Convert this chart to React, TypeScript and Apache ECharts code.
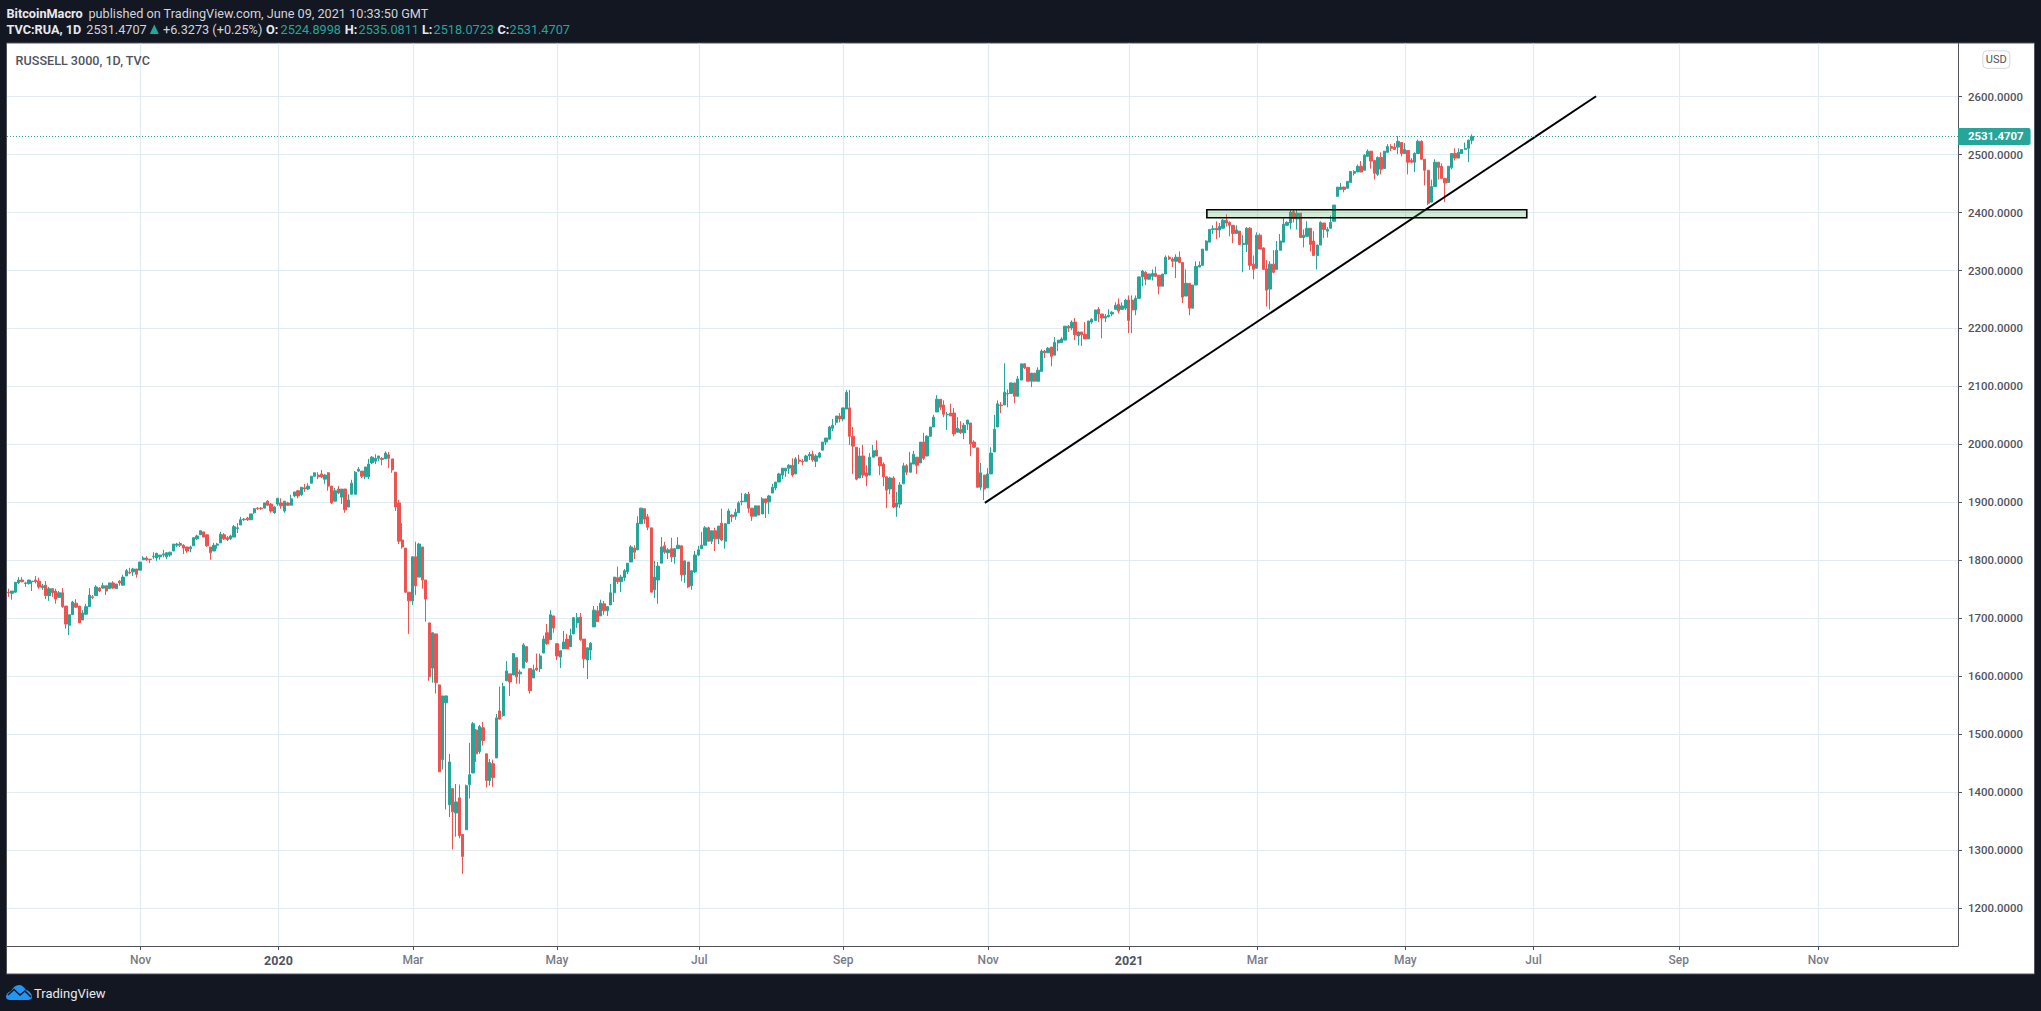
import React, { useEffect, useRef } from "react";
import * as echarts from "echarts";

// Each row: open, close, low, high
const candlesAutumn2019 = [
[1745,1744,1737,1751],[1743,1747,1732,1747],[1745,1762,1744,1762],[1761,1766,1759,1771],[1766,1763,1762,1771],[1760,1761,1754,1763],[1760,1766,1758,1766],[1763,1764,1747,1764],[1766,1763,1760,1773],[1764,1754,1751,1770],
[1753,1756,1749,1759],[1757,1739,1733,1764],[1739,1751,1730,1754],[1751,1744,1737,1751],[1747,1733,1725,1751],[1736,1744,1736,1747],[1744,1720,1718,1752],[1721,1690,1682,1721],[1688,1706,1671,1706],[1706,1728,1706,1730],
[1726,1719,1718,1733],[1721,1692,1692,1721],[1697,1709,1697,1714],[1707,1720,1706,1725],[1720,1740,1720,1752],[1737,1736,1733,1740],[1739,1754,1739,1757],[1752,1747,1745,1754],[1752,1756,1751,1761],[1756,1747,1740,1756],
[1751,1761,1751,1761],[1761,1752,1751,1764],[1751,1759,1751,1759],[1764,1761,1756,1766],[1757,1771,1757,1775],[1773,1782,1773,1785],[1779,1778,1776,1787],[1780,1785,1773,1787],[1785,1776,1770,1785],[1783,1797,1783,1797],
];
const candlesWinter2019 = [
[1801,1804,1801,1807],[1804,1801,1799,1807],[1802,1801,1795,1802],[1806,1807,1802,1814],[1804,1812,1799,1813],[1806,1809,1801,1809],[1809,1811,1805,1818],[1806,1813,1802,1814],[1809,1814,1806,1814],[1816,1828,1816,1828],
[1826,1828,1823,1830],[1829,1826,1823,1832],[1826,1821,1811,1828],[1823,1816,1813,1823],[1820,1823,1814,1825],[1825,1839,1825,1839],[1837,1842,1835,1844],[1844,1851,1844,1851],[1849,1840,1840,1849],[1844,1825,1823,1844],
[1823,1813,1801,1823],[1816,1826,1816,1830],[1826,1828,1820,1830],[1830,1845,1830,1849],[1844,1837,1835,1847],[1839,1836,1833,1842],[1837,1842,1835,1844],[1840,1858,1840,1861],[1855,1856,1847,1864],[1861,1870,1861,1875],
[1870,1871,1868,1873],[1873,1870,1868,1875],[1870,1880,1870,1880],[1882,1889,1880,1890],[1890,1889,1887,1892],[1890,1889,1887,1892],[1890,1899,1890,1899],[1902,1895,1894,1904],[1897,1885,1882,1899],[1882,1892,1880,1894],
];
const candlesEarly2020 = [
[1897,1907,1894,1907],[1899,1894,1889,1907],[1885,1902,1882,1902],[1899,1895,1894,1901],[1895,1906,1895,1913],[1911,1918,1909,1918],[1920,1911,1907,1921],[1913,1926,1911,1926],[1925,1923,1918,1932],[1923,1928,1921,1933],
[1933,1945,1933,1945],[1945,1951,1944,1951],[1947,1944,1940,1952],[1949,1944,1942,1956],[1940,1947,1932,1949],[1951,1928,1920,1952],[1928,1899,1897,1928],[1902,1920,1902,1925],[1923,1916,1914,1928],[1909,1923,1897,1923],
[1923,1887,1882,1923],[1892,1904,1892,1914],[1914,1933,1914,1939],[1914,1952,1914,1954],[1954,1957,1952,1961],[1954,1945,1942,1954],[1944,1961,1940,1961],[1944,1966,1940,1975],[1968,1978,1966,1980],[1971,1976,1966,1983],
[1976,1980,1971,1980],[1976,1974,1964,1978],[1975,1985,1975,1988],[1982,1976,1959,1987],[1975,1956,1951,1975],[1952,1892,1885,1952],[1899,1833,1828,1904],[1835,1823,1820,1864],[1821,1745,1744,1821],[1745,1730,1673,1745],
];
const candlesCrash2020 = [
[1730,1806,1723,1807],[1806,1756,1740,1832],[1771,1828,1771,1830],[1823,1766,1751,1823],[1766,1733,1694,1766],[1692,1599,1592,1692],[1614,1675,1589,1675],[1673,1589,1570,1673],[1585,1435,1435,1585],[1456,1566,1439,1566],
[1554,1566,1370,1566],[1378,1452,1357,1466],[1406,1366,1301,1406],[1364,1383,1323,1414],[1390,1325,1320,1413],[1327,1289,1259,1327],[1335,1411,1335,1413],[1413,1430,1389,1485],[1433,1518,1433,1521],[1507,1466,1452,1509],
[1470,1513,1466,1516],[1511,1489,1480,1521],[1466,1420,1408,1466],[1420,1451,1411,1457],[1449,1425,1409,1456],[1459,1528,1459,1535],[1540,1526,1525,1582],[1532,1582,1530,1589],[1592,1609,1592,1626],[1604,1590,1566,1604],
[1602,1639,1602,1640],[1632,1599,1587,1632],[1604,1607,1587,1611],[1614,1654,1614,1657],[1651,1625,1623,1652],[1613,1575,1570,1613],[1597,1611,1597,1620],[1614,1611,1609,1639],[1613,1635,1607,1639],[1640,1664,1640,1670],
];
const candlesSpring2020 = [
[1675,1656,1654,1690],[1663,1706,1663,1714],[1704,1683,1675,1704],[1656,1635,1628,1657],[1633,1644,1614,1644],[1647,1659,1647,1678],[1664,1647,1647,1673],[1651,1670,1651,1682],[1673,1701,1673,1702],[1692,1701,1683,1709],
[1702,1663,1661,1709],[1664,1630,1614,1664],[1628,1649,1595,1649],[1645,1657,1628,1659],[1685,1714,1685,1721],[1713,1694,1694,1721],[1704,1726,1704,1732],[1725,1713,1706,1730],[1713,1720,1704,1720],[1723,1744,1723,1759],
[1744,1771,1728,1771],[1770,1763,1759,1789],[1763,1771,1745,1775],[1770,1782,1764,1785],[1780,1795,1776,1795],[1797,1823,1797,1826],[1821,1814,1802,1826],[1818,1864,1818,1876],
];
const candlesSummer2020 = [
[1863,1890,1863,1890],[1889,1871,1863,1889],[1875,1857,1852,1880],[1856,1745,1745,1856],[1749,1771,1735,1799],[1766,1790,1725,1797],[1795,1823,1795,1840],[1825,1814,1811,1832],[1813,1818,1802,1821],[1820,1806,1797,1839],
[1806,1820,1794,1820],[1820,1826,1820,1840],[1825,1775,1764,1825],[1775,1799,1761,1799],[1797,1754,1752,1797],[1756,1782,1749,1783],[1780,1809,1778,1816],[1809,1818,1807,1825],[1820,1826,1820,1849],[1826,1856,1826,1859],
[1856,1833,1832,1858],[1833,1851,1828,1851],[1851,1837,1816,1856],[1837,1859,1828,1859],[1864,1835,1833,1889],[1833,1863,1820,1864],[1863,1885,1863,1889],[1878,1875,1866,1880],[1876,1883,1870,1889],[1882,1899,1882,1902],
[1901,1902,1895,1916],[1901,1914,1901,1916],[1914,1890,1882,1918],[1890,1876,1868,1890],[1876,1894,1876,1894],[1894,1878,1878,1894],[1880,1906,1880,1909],[1906,1899,1873,1906],[1901,1911,1880,1913],[1916,1926,1916,1932],
[1925,1935,1921,1935],[1935,1949,1935,1951],[1947,1959,1940,1959],[1954,1959,1944,1959],[1959,1964,1949,1966],[1964,1947,1944,1976],[1949,1975,1949,1978],[1973,1971,1966,1982],[1971,1970,1964,1975],[1971,1980,1971,1982],
[1980,1983,1973,1987],[1983,1973,1970,1989],[1971,1980,1961,1983],[1978,1985,1976,1987],[1990,2004,1990,2004],[2004,2011,1999,2011],[2009,2030,2009,2032],[2028,2033,2023,2044],[2038,2049,2033,2049],[2049,2044,2038,2054],
[2044,2063,2040,2063],[2061,2090,2061,2094],
];
const candlesAutumn2020 = [
[2063,2014,1999,2094],[2014,1997,1949,2030],[1995,1940,1938,1995],[1942,1980,1942,1994],[1980,1947,1942,1999],[1951,1945,1928,1964],[1947,1978,1947,1985],[1978,1989,1978,1999],[1990,1980,1980,2007],[1978,1963,1947,1978],
[1966,1944,1928,1969],[1944,1921,1890,1944],[1923,1942,1914,1944],[1942,1892,1890,1945],[1892,1899,1875,1918],[1897,1930,1890,1935],[1932,1963,1932,1968],[1963,1952,1947,1966],[1952,1968,1952,1987],[1966,1983,1966,1989],
[1978,1964,1949,1978],[1968,2004,1968,2004],[2004,1976,1973,2020],[1980,2014,1980,2016],[2014,2030,2014,2030],[2030,2047,2030,2051],[2056,2078,2056,2085],[2078,2064,2059,2078],[2068,2052,2047,2076],[2051,2052,2025,2056],
[2054,2049,2049,2070],[2054,2018,2014,2063],[2021,2028,2021,2047],[2026,2020,2018,2040],[2020,2033,2009,2037],[2035,2042,2025,2042],[2037,2001,1980,2037],[2004,1995,1994,2007],[1994,1926,1926,1994],
];
const candlesWinter2020 = [
[1926,1951,1921,1968],[1947,1923,1904,1947],[1925,1949,1925,1959],[1949,1985,1949,1995],[1987,2026,1987,2051],[2030,2070,2030,2076],[2068,2067,2054,2073],[2068,2090,2068,2140],[2087,2088,2064,2095],[2088,2106,2088,2107],
[2106,2083,2071,2106],[2083,2113,2083,2118],[2111,2139,2111,2139],[2139,2132,2130,2140],[2133,2109,2109,2133],[2109,2123,2099,2123],[2123,2109,2109,2123],[2109,2128,2109,2133],[2126,2161,2126,2164],[2161,2158,2149,2163],
[2158,2166,2158,2168],[2168,2152,2135,2168],[2154,2176,2154,2185],[2175,2180,2161,2180],[2176,2182,2175,2185],[2180,2204,2180,2204],[2204,2201,2194,2206],[2201,2211,2197,2214],[2211,2189,2180,2218],[2187,2194,2171,2195],
[2194,2189,2170,2194],[2190,2182,2182,2211],[2182,2213,2182,2213],[2211,2216,2208,2218],[2214,2232,2214,2232],[2233,2225,2211,2237],[2225,2218,2183,2225],[2218,2221,2211,2225],[2220,2223,2220,2233],[2225,2228,2221,2230],
[2233,2240,2233,2245],[2242,2230,2226,2252],[2233,2239,2232,2245],[2235,2249,2232,2251],
];
const candlesEarly2021 = [
[2249,2214,2192,2257],[2249,2232,2192,2257],[2232,2252,2223,2257],[2252,2289,2252,2289],[2289,2299,2273,2301],[2297,2285,2275,2299],[2285,2294,2285,2294],[2290,2295,2283,2302],[2295,2290,2289,2307],[2292,2273,2259,2292],
[2273,2294,2273,2294],[2294,2323,2294,2326],[2323,2320,2318,2326],[2320,2316,2306,2323],[2316,2323,2287,2328],[2323,2314,2313,2333],[2314,2254,2244,2314],[2256,2278,2256,2302],[2278,2235,2223,2278],[2235,2275,2235,2275],
[2275,2307,2275,2316],[2306,2309,2306,2316],[2309,2337,2309,2337],[2335,2351,2335,2352],[2349,2371,2349,2371],[2371,2372,2363,2378],[2373,2370,2354,2385],[2370,2376,2357,2382],[2373,2387,2373,2389],[2387,2382,2376,2397],
[2383,2378,2359,2385],[2378,2364,2347,2378],[2364,2370,2364,2378],[2368,2345,2345,2368],[2345,2347,2297,2361],[2345,2373,2332,2375],[2373,2309,2301,2375],[2311,2302,2285,2326],[2304,2361,2304,2366],[2361,2337,2337,2364],
[2339,2302,2302,2340],[2303,2266,2238,2318],[2268,2311,2233,2316],[2311,2297,2295,2335],[2302,2335,2302,2351],[2335,2351,2335,2363],[2349,2380,2349,2391],[2378,2383,2378,2385],[2382,2401,2371,2406],[2402,2390,2383,2406],
[2389,2399,2371,2406],[2399,2357,2356,2399],[2357,2361,2340,2371],[2359,2373,2359,2385],[2373,2345,2333,2373],[2351,2326,2326,2368],[2326,2344,2302,2344],[2344,2383,2344,2385],[2382,2371,2356,2382],[2368,2371,2357,2375],
[2373,2383,2373,2395],[2385,2413,2385,2413],
];
const candlesSpring2021 = [
[2428,2444,2428,2444],[2440,2444,2440,2451],[2444,2440,2435,2445],[2442,2454,2442,2454],[2452,2471,2452,2471],[2468,2471,2464,2473],[2470,2480,2470,2483],[2480,2470,2470,2489],[2473,2499,2473,2501],[2497,2506,2497,2509],
[2506,2489,2476,2506],[2490,2468,2457,2490],[2466,2495,2463,2497],[2495,2475,2466,2504],[2476,2506,2476,2506],[2504,2514,2504,2518],[2514,2511,2506,2518],[2513,2509,2509,2520],[2513,2523,2501,2532],[2521,2502,2497,2521],
[2502,2509,2502,2520],[2507,2487,2466,2507],[2490,2487,2485,2494],[2487,2502,2470,2504],[2502,2523,2502,2526],[2523,2492,2492,2525],[2492,2473,2447,2492],[2473,2416,2413,2473],[2418,2445,2418,2457],[2445,2487,2445,2492],
[2487,2478,2457,2487],[2480,2459,2459,2485],[2459,2451,2418,2459],[2452,2480,2452,2480],[2478,2502,2475,2502],[2502,2494,2490,2511],[2494,2504,2494,2511],[2502,2509,2502,2509],[2509,2511,2509,2521],[2511,2525,2487,2526],
[2524.8998,2531.4707,2518.0723,2535.0811],
];

const lastClose = 2531.4707;
const priceTicks = [1200, 1300, 1400, 1500, 1600, 1700, 1800, 1900, 2000, 2100, 2200, 2300, 2400, 2500, 2600];
// Months on the time axis, given as bar slots (one slot = one trading day)
const monthSlots = [39.7, 80.7, 120.7, 163.5, 205.8, 248.6, 291.7, 333.6, 371.7, 415.7, 453.8, 497, 538.5];
const monthLabels = ["Nov", "2020", "Mar", "May", "Jul", "Sep", "Nov", "2021", "Mar", "May", "Jul", "Sep", "Nov"];
const slotCount = 580;
const trendLine = [[290.7, 1899], [472.4, 2600.7]];
const supportZone = [[356.7, 2405, 451.8, 2391]];

const candles = [
  ...candlesAutumn2019, ...candlesWinter2019, ...candlesEarly2020, ...candlesCrash2020, ...candlesSpring2020,
  ...candlesSummer2020, ...candlesAutumn2020, ...candlesWinter2020, ...candlesEarly2021, ...candlesSpring2021,
];

const UP = "#26a69a";
const DOWN = "#ef5350";
const DARK = "#131722";
const AXIS = "#50535e";
const GRID = "#e1ecf2";
const FONT = "Roboto, sans-serif";

const cloud =
  "M0 12C0 9 2 7 5 6C7 2 10 0 13 0C16 0 18 2 20 5C23 5 26 9 26 12C26 14 24 15 22 15L4 15C2 15 0 14 0 12Z";

function headerText(x: number, y: number, text: string, fill: string, fontWeight: any = "normal", fontSize = 12.7) {
  return {
    type: "text",
    x,
    y,
    silent: true,
    z: 10,
    style: { text, fill, fontSize, fontWeight, fontFamily: FONT, textVerticalAlign: "middle", verticalAlign: "middle" },
  };
}

export default function App() {
  const ref = useRef<HTMLDivElement>(null);
  useEffect(() => {
    if (!ref.current) return;
    echarts.graphic.registerShape("tvcloud", echarts.graphic.extendPath(cloud, {}));
    const chart = echarts.init(ref.current, null, { renderer: "svg" });
    chart.setOption({
      animation: false,
      backgroundColor: DARK,
      textStyle: { fontFamily: FONT },
      grid: { left: 7, right: 83, top: 43.5, bottom: 65, containLabel: false },
      xAxis: [
        {
          type: "category",
          show: false,
          data: Array.from({ length: slotCount }, (_, i) => String(i)),
          boundaryGap: true,
        },
        {
          type: "value",
          min: 0,
          max: slotCount,
          position: "bottom",
          axisLine: { show: true, onZero: false, lineStyle: { color: AXIS, width: 1 } },
          axisTick: { show: true, length: 4, customValues: monthSlots, lineStyle: { color: AXIS } },
          splitLine: { show: true, lineStyle: { color: GRID, width: 1.2 } },
          axisLabel: {
            show: true,
            customValues: monthSlots,
            margin: 8,
            fontSize: 12,
            fontWeight: 500,
            fontFamily: FONT,
            color: "#787b86",
            formatter: (v: number) => {
              const s = monthLabels[monthSlots.indexOf(v)] ?? "";
              return /^\d/.test(s) ? `{y|${s}}` : s;
            },
            rich: { y: { fontSize: 12.5, fontWeight: 700, color: AXIS, fontFamily: FONT } },
          },
        },
      ],
      yAxis: {
        type: "value",
        position: "right",
        min: 1134.4,
        max: 2691.8,
        scale: true,
        axisLine: { show: true, onZero: false, lineStyle: { color: AXIS, width: 1 } },
        axisTick: { show: true, length: 4, customValues: priceTicks, lineStyle: { color: AXIS } },
        splitLine: { show: true, lineStyle: { color: GRID, width: 1 } },
        axisLabel: {
          show: true,
          customValues: priceTicks,
          margin: 10,
          fontSize: 11.4,
          fontWeight: 500,
          fontFamily: FONT,
          color: AXIS,
          formatter: (v: number) => v.toFixed(4),
        },
      },
      series: [
        {
          type: "candlestick",
          xAxisIndex: 0,
          yAxisIndex: 0,
          z: 3,
          barWidth: 2.8,
          silent: true,
          itemStyle: { color: UP, color0: DOWN, borderColor: UP, borderColor0: DOWN, borderWidth: 1 },
          data: candles,
          markLine: {
            silent: true,
            symbol: "none",
            lineStyle: { color: UP, type: [1, 2], width: 1 },
            label: {
              show: true,
              position: "end",
              distance: 0,
              formatter: () => lastClose.toFixed(4),
              color: "#ffffff",
              backgroundColor: UP,
              fontFamily: FONT,
              fontWeight: 700,
              fontSize: 11.4,
              lineHeight: 13,
              padding: [2, 7, 2, 10],
              borderRadius: [0, 2, 2, 0],
            },
            data: [{ yAxis: lastClose }],
          },
        },
        {
          type: "line",
          xAxisIndex: 1,
          yAxisIndex: 0,
          z: 4,
          silent: true,
          symbol: "none",
          lineStyle: { color: "#000000", width: 2 },
          data: trendLine,
        },
        {
          type: "custom",
          xAxisIndex: 1,
          yAxisIndex: 0,
          z: 5,
          silent: true,
          encode: { x: [0, 2], y: [1, 3] },
          data: supportZone,
          renderItem: (_: any, api: any) => {
            const a = api.coord([api.value(0), api.value(1)]);
            const b = api.coord([api.value(2), api.value(3)]);
            return {
              type: "rect",
              shape: { x: a[0], y: a[1], width: b[0] - a[0], height: b[1] - a[1] },
              style: { fill: "rgba(76,175,80,0.24)", stroke: "#000000", lineWidth: 1.6 },
            };
          },
        },
      ],
      graphic: [
        { type: "rect", z: -10, silent: true, shape: { x: 6.5, y: 43, width: 2028, height: 931 }, style: { fill: "#ffffff", stroke: "#50535e", lineWidth: 1 } },
        headerText(6.5, 13, "BitcoinMacro", "#e8e9ed", 700),
        headerText(88.5, 13, "published on TradingView.com, June 09, 2021 10:33:50 GMT", "#d1d4dc"),
        headerText(6.5, 29.5, "TVC:RUA, 1D", "#e8e9ed", 700),
        headerText(86.3, 29.5, "2531.4707", "#d1d4dc"),
        { type: "polygon", z: 10, silent: true, shape: { points: [[149.8, 34], [158.8, 34], [154.3, 24.5]] }, style: { fill: UP } },
        headerText(163, 29.5, "+6.3273 (+0.25%)", "#d1d4dc"),
        headerText(266, 29.5, "O:", "#e8e9ed", 700),
        headerText(280.6, 29.5, "2524.8998", UP),
        headerText(344.8, 29.5, "H:", "#e8e9ed", 700),
        headerText(358.6, 29.5, "2535.0811", UP),
        headerText(422, 29.5, "L:", "#e8e9ed", 700),
        headerText(433.6, 29.5, "2518.0723", UP),
        headerText(497.4, 29.5, "C:", "#e8e9ed", 700),
        headerText(509.5, 29.5, "2531.4707", UP),
        headerText(15.6, 60.5, "RUSSELL 3000, 1D, TVC", AXIS, 500, 12.6),
        { type: "rect", z: 10, silent: true, shape: { x: 1982.8, y: 50.8, width: 27, height: 17.5, r: 4 }, style: { fill: "#ffffff", stroke: "#d1d4dc", lineWidth: 1 } },
        {
          type: "text", z: 11, silent: true, x: 1996.3, y: 59.6,
          style: { text: "USD", fill: AXIS, fontSize: 11, fontFamily: FONT, align: "center", verticalAlign: "middle" },
        },
        { type: "tvcloud", z: 10, silent: true, x: 6, y: 985, style: { fill: "#2196f3" } },
        {
          type: "polyline", z: 11, silent: true,
          shape: { points: [[8, 995], [14, 989.5], [20, 995], [25, 991], [31, 997]] },
          style: { stroke: DARK, lineWidth: 1.5, fill: "none" },
        },
        headerText(34, 993, "TradingView", "#e8e9ed", "normal", 13),
      ],
    });
    return () => chart.dispose();
  }, []);
  return <div ref={ref} style={{ position: "absolute", left: 0, top: 0, width: 2041, height: 1011 }} />;
}
